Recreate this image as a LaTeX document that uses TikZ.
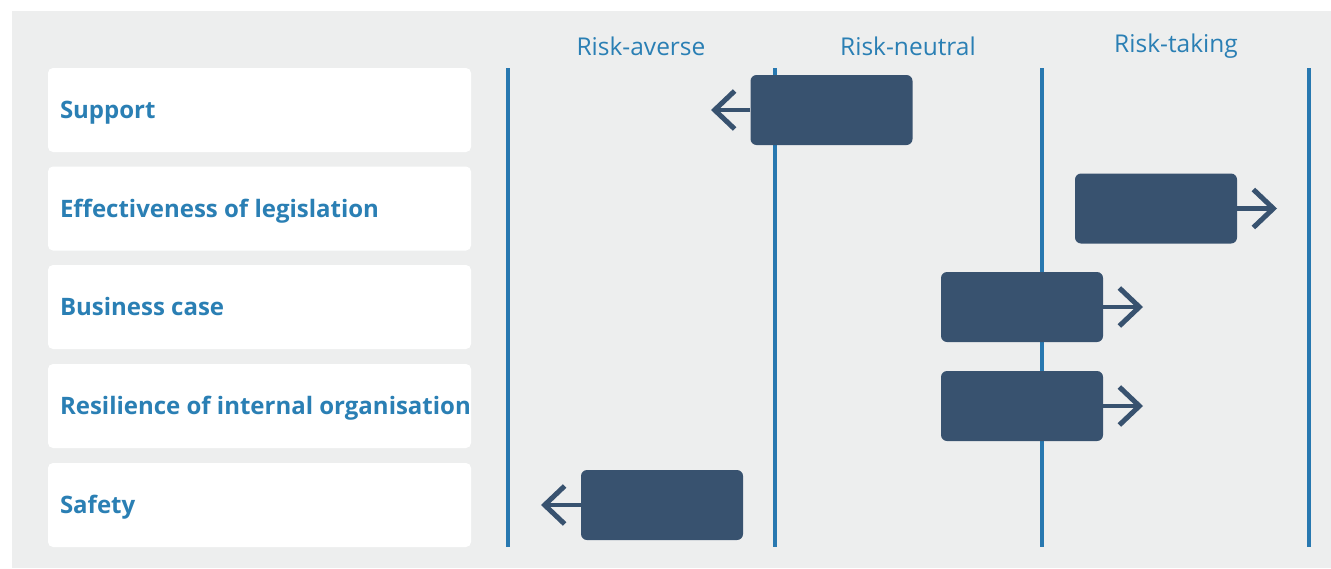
\documentclass[tikz,border=0pt]{standalone}
\usepackage{fontspec}
\setmainfont{Open Sans}
\usetikzlibrary{arrows.meta}
\definecolor{bggray}{HTML}{EDEEEE}
\definecolor{riskblue}{HTML}{2A7FB4}
\definecolor{axisblue}{HTML}{2878B0}
\definecolor{barblue}{HTML}{38526F}

\begin{document}
\begin{tikzpicture}[x=1pt, y=-1pt,
        factor/.style={rectangle, rounded corners=5pt, fill=white, minimum width=423pt, minimum height=84pt, inner sep=0pt},
        factorlabel/.style={anchor=base west, inner sep=0pt, text=riskblue, font=\fontsize{24}{28}\selectfont\bfseries},
        header/.style={text=riskblue, inner sep=0pt, font=\fontsize{24.5}{28}\selectfont},
        bar/.style={rectangle, rounded corners=6pt, fill=barblue, minimum width=162pt, minimum height=70pt, inner sep=0pt},
        axis/.style={draw=axisblue, line width=4pt},
        pointer/.style={-{Straight Barb[length=20pt, width=38pt, line width=5pt]}, draw=barblue, line width=4.5pt}
    ]
        \useasboundingbox (0,0) rectangle (1331,568);
        \fill[bggray] (12,11) rectangle (1331,568);

        % column headers
        \node[header] (averse) at (641,46) {Risk-averse};
        \node[header] (neutral) at (908,46) {Risk-neutral};
        \node[header] (taking) at (1176,46) {Risk-taking};

        % factor boxes
        \node[factor] (support) at (259.5,110) {};
        \node[factor] (legis) at (259.5,208.5) {};
        \node[factor] (business) at (259.5,307) {};
        \node[factor] (resil) at (259.5,406) {};
        \node[factor] (safety) at (259.5,505) {};
        \node[factorlabel] at ([xshift=12pt, yshift=-8.5pt]support.west) {Support};
        \node[factorlabel] at ([xshift=12pt, yshift=-8.5pt]legis.west) {Effectiveness of legislation};
        \node[factorlabel] at ([xshift=12pt, yshift=-8.5pt]business.west) {Business case};
        \node[factorlabel] at ([xshift=12pt, yshift=-8.5pt]resil.west) {Resilience of internal organisation};
        \node[factorlabel] at ([xshift=12pt, yshift=-8.5pt]safety.west) {Safety};

        % scale lines
        \draw[axis] (508,68) -- (508,547);
        \draw[axis] (775,68) -- (775,547);
        \draw[axis] (1042,68) -- (1042,547);
        \draw[axis] (1309,68) -- (1309,547);

        % bars
        \node[bar] (bsupport) at (831.5,110) {};
        \node[bar] (blegis) at (1156,208.5) {};
        \node[bar] (bbusiness) at (1022,307) {};
        \node[bar] (bresil) at (1022,406) {};
        \node[bar] (bsafety) at (662,505) {};

        \coordinate (tsupport) at (711,110);
        \coordinate (tlegis) at (1277,208.5);
        \coordinate (tbusiness) at (1143,307);
        \coordinate (tresil) at (1143,406);
        \coordinate (tsafety) at (541,505);

        \draw[pointer] (bsupport.west) -- (tsupport);
        \draw[pointer] (blegis.east) -- (tlegis);
        \draw[pointer] (bbusiness.east) -- (tbusiness);
        \draw[pointer] (bresil.east) -- (tresil);
        \draw[pointer] (bsafety.west) -- (tsafety);
    \end{tikzpicture}
\end{document}
